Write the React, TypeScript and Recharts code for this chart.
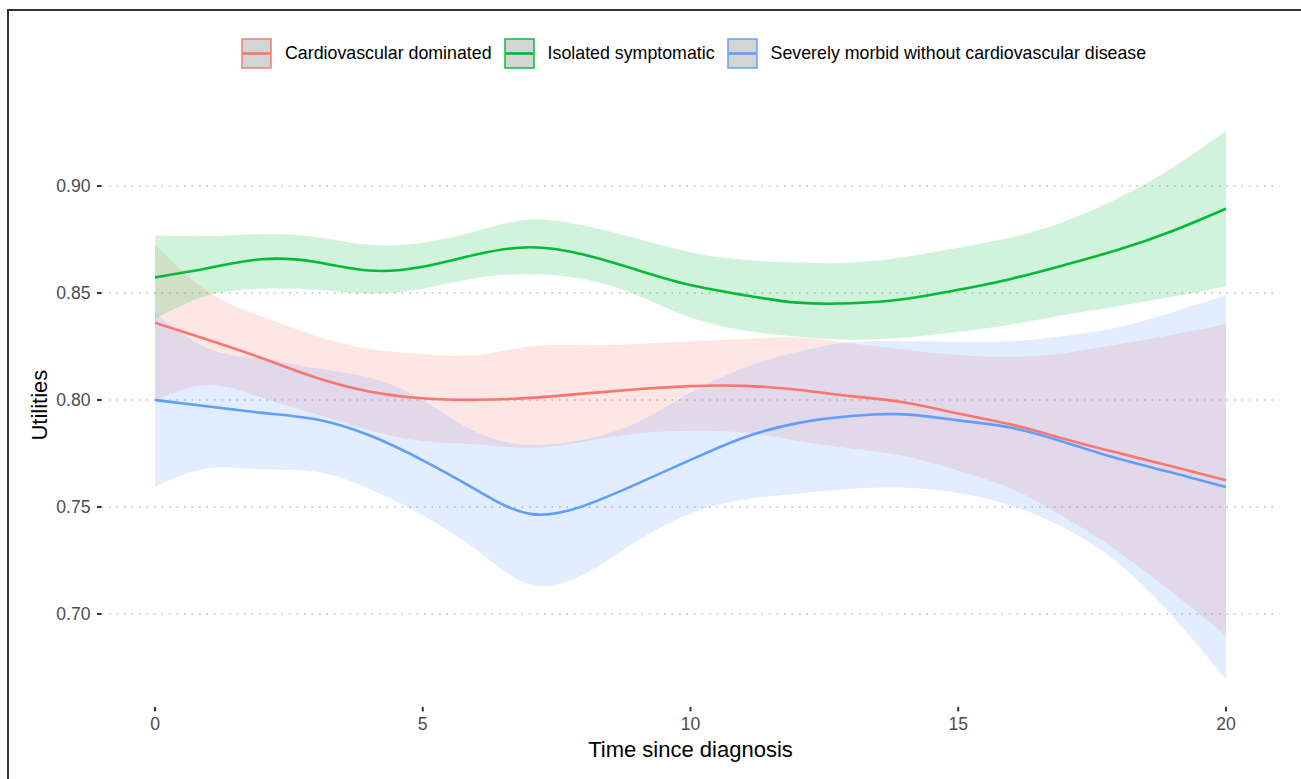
import React from "react";
import { ComposedChart, Area, Line, XAxis, YAxis, CartesianGrid } from "recharts";

// years since diagnosis (smoother evaluated at each whole year)
const TIME = [0, 1, 2, 3, 4, 5, 6, 7, 8, 9, 10, 11, 12, 13, 14, 15, 16, 17, 18, 19, 20];

// Cardiovascular dominated
const CARDIO_FIT = [0.8361, 0.828, 0.8195, 0.8105, 0.804, 0.8008, 0.8001, 0.801, 0.803, 0.805, 0.8065, 0.8066, 0.8048, 0.8018, 0.7988, 0.7937, 0.7885, 0.7817, 0.7752, 0.7689, 0.7625];
const CARDIO_LO = [0.8, 0.807, 0.801, 0.7935, 0.786, 0.7808, 0.7793, 0.7776, 0.7805, 0.7843, 0.7856, 0.7848, 0.781, 0.7773, 0.7738, 0.767, 0.7585, 0.745, 0.729, 0.71, 0.69];
const CARDIO_HI = [0.8724, 0.8505, 0.839, 0.83, 0.8238, 0.8215, 0.821, 0.825, 0.8256, 0.8262, 0.8275, 0.8285, 0.8292, 0.8265, 0.8235, 0.821, 0.8202, 0.822, 0.826, 0.8305, 0.8355];

// Isolated symptomatic
const ISO_FIT = [0.8573, 0.8617, 0.8658, 0.8645, 0.8605, 0.8623, 0.868, 0.8714, 0.868, 0.8608, 0.8537, 0.849, 0.8455, 0.8452, 0.8472, 0.8515, 0.8567, 0.8632, 0.8703, 0.879, 0.8894];
const ISO_LO = [0.838, 0.849, 0.852, 0.8515, 0.8497, 0.852, 0.857, 0.8588, 0.8565, 0.849, 0.8385, 0.8325, 0.8296, 0.8282, 0.8292, 0.8318, 0.8353, 0.8398, 0.8438, 0.8482, 0.853];
const ISO_HI = [0.877, 0.8766, 0.8775, 0.8762, 0.8725, 0.8735, 0.879, 0.8844, 0.8815, 0.8755, 0.869, 0.8655, 0.8642, 0.8642, 0.8668, 0.8712, 0.876, 0.8835, 0.8945, 0.9085, 0.9258];

// Severely morbid without cardiovascular disease
const MORBID_FIT = [0.8, 0.797, 0.794, 0.791, 0.7835, 0.7718, 0.758, 0.7468, 0.7505, 0.7608, 0.772, 0.7825, 0.7892, 0.7925, 0.7933, 0.7905, 0.787, 0.7802, 0.7725, 0.766, 0.7593];
const MORBID_LO = [0.7595, 0.7682, 0.7675, 0.7665, 0.7585, 0.746, 0.73, 0.7138, 0.7185, 0.734, 0.747, 0.7535, 0.7563, 0.7585, 0.759, 0.7565, 0.7505, 0.74, 0.7235, 0.699, 0.6694];
const MORBID_HI = [0.8405, 0.824, 0.8192, 0.8148, 0.8105, 0.8, 0.785, 0.779, 0.7815, 0.7895, 0.8035, 0.815, 0.8225, 0.827, 0.8275, 0.8272, 0.8275, 0.83, 0.834, 0.841, 0.849];

const X_TICKS = [0, 5, 10, 15, 20];
const Y_TICKS = [0.7, 0.75, 0.8, 0.85, 0.9];

const SERIES = [
  { key: "cardio", name: "Cardiovascular dominated", color: "#F8766D" },
  { key: "iso", name: "Isolated symptomatic", color: "#00BA38" },
  { key: "morbid", name: "Severely morbid without cardiovascular disease", color: "#619CFF" },
];

const rows = TIME.map((t, i) => ({
  t,
  cardio: CARDIO_FIT[i],
  cardioBand: [CARDIO_LO[i], CARDIO_HI[i]],
  iso: ISO_FIT[i],
  isoBand: [ISO_LO[i], ISO_HI[i]],
  morbid: MORBID_FIT[i],
  morbidBand: [MORBID_LO[i], MORBID_HI[i]],
}));

const FONT = '"Liberation Sans", Arial, Helvetica, sans-serif';
const TICK = { fill: "#4D4D4D", fontSize: 17.6 };
const TICK_LINE = { stroke: "#333333", strokeWidth: 2 };

function LegendKey({ color }: { color: string }) {
  return (
    <svg width={31} height={31} style={{ display: "block" }}>
      <rect x={1} y={1} width={29} height={29} fill="#D4D4D4" stroke={color} strokeOpacity={0.8} strokeWidth={1.8} />
      <line x1={2} x2={29} y1={15.5} y2={15.5} stroke={color} strokeWidth={2.6} />
    </svg>
  );
}

export default function App() {
  return (
    <div style={{ position: "absolute", left: 0, top: 0, width: 1301, height: 779, overflow: "hidden", background: "#fff", fontFamily: FONT }}>
      {/* outer frame, only top and left edges fall inside the picture */}
      <div style={{ position: "absolute", left: 7, top: 9, width: 1400, height: 900, borderTop: "2px solid #333", borderLeft: "2px solid #333" }} />

      <div style={{ position: "absolute", left: 241, top: 38, height: 31, display: "flex", alignItems: "center" }}>
        {SERIES.map((s) => (
          <div key={s.key} style={{ display: "flex", alignItems: "center", marginRight: 12 }}>
            <LegendKey color={s.color} />
            <span style={{ marginLeft: 13, fontSize: 17.8, color: "#000", whiteSpace: "nowrap" }}>{s.name}</span>
          </div>
        ))}
      </div>

      <ComposedChart
        width={1301}
        height={779}
        data={rows}
        margin={{ top: 103.4, right: 21.5, bottom: 0, left: 0 }}
        style={{ position: "absolute", left: 0, top: 0 }}
      >
        {/* grid only at the major y breaks, no edge lines */}
        <CartesianGrid
          vertical={false}
          syncWithTicks
          stroke="#BDBDBD"
          strokeWidth={1.6}
          strokeDasharray="1.6 5.9"
        />
        <XAxis
          dataKey="t"
          type="number"
          domain={[-1, 21]}
          ticks={X_TICKS}
          interval={0}
          allowDataOverflow
          axisLine={false}
          tickLine={TICK_LINE}
          tickSize={4.5}
          tickMargin={6}
          tick={TICK}
          height={72.1}
          label={{ value: "Time since diagnosis", position: "insideBottom", offset: 22, style: { fill: "#000", fontSize: 22 } }}
        />
        <YAxis
          type="number"
          domain={[0.6566, 0.9386]}
          ticks={Y_TICKS}
          interval={0}
          allowDataOverflow
          axisLine={false}
          tickLine={TICK_LINE}
          tickSize={4.5}
          tickMargin={6.5}
          tick={TICK}
          tickFormatter={(v: number) => v.toFixed(2)}
          width={101.5}
          label={{ value: "Utilities", angle: -90, position: "insideLeft", offset: 39.5, style: { fill: "#000", fontSize: 22, textAnchor: "middle" } }}
        />
        {SERIES.map((s) => [
          <Area
            key={s.key + "-band"}
            dataKey={s.key + "Band"}
            type="natural"
            stroke="none"
            fill={s.color}
            fillOpacity={0.18}
            activeDot={false}
            isAnimationActive={false}
          />,
          <Line
            key={s.key + "-fit"}
            dataKey={s.key}
            type="natural"
            stroke={s.color}
            strokeWidth={2.6}
            dot={false}
            activeDot={false}
            isAnimationActive={false}
          />,
        ])}
      </ComposedChart>
    </div>
  );
}
